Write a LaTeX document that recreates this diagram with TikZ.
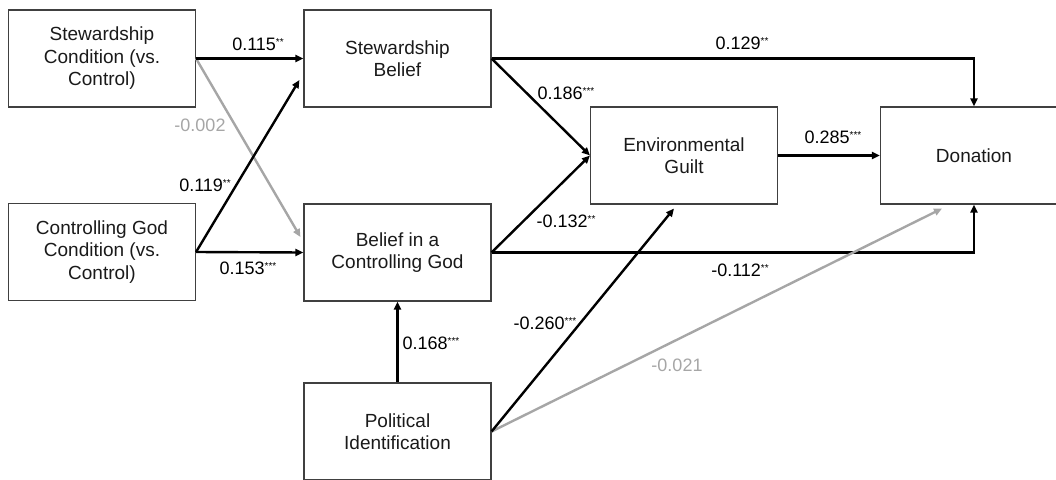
\documentclass[tikz,border=0pt]{standalone}
\usepackage{fontspec}
\setmainfont{Liberation Sans}
\usetikzlibrary{arrows.meta,calc}
\definecolor{ngray}{HTML}{A6A6A6}
\definecolor{tx}{HTML}{1A1A1A}
\newcommand\sigst[1]{\raisebox{0.45ex}{\fontsize{10}{10}\selectfont #1}}
\tikzset{
  box/.style={draw=black!75, line width=1.1pt, minimum width=187pt, minimum height=97pt,
    align=center, font=\fontsize{19}{22.5}\selectfont, text=tx, inner sep=0pt},
  path/.style={line width=2.4pt, -{Triangle[length=8pt,width=7pt]}, black},
  npath/.style={line width=2.4pt, -{Triangle[length=8pt,width=7pt]}, ngray},
  lab/.style={font=\fontsize{18}{20}\selectfont, text=black, inner sep=0pt},
  nlab/.style={font=\fontsize{18}{20}\selectfont, text=ngray, inner sep=0pt}
}
\begin{document}
\begin{tikzpicture}[x=1pt,y=-1pt]
\useasboundingbox (0,0) rectangle (1056,479);
\begin{scope}
\clip (0,0) rectangle (1056,479);
\node[box] (b1) at (102,58.5) {Stewardship\\Condition (vs.\\Control)};
\node[box] (b2) at (102,252) {Controlling God\\Condition (vs.\\Control)};
\node[box] (b3) at (397.5,58.5) {Stewardship\\Belief};
\node[box] (b4) at (397.5,252.5) {Belief in a\\Controlling God};
\node[box] (b5) at (684,155.5) {Environmental\\Guilt};
\node[box] (b6) at (974,155.5) {Donation};
\node[box] (b7) at (397.5,431.5) {Political\\Identification};
\coordinate (c4a) at ($(b4.west)+(-3,-15.5)$);
\coordinate (c3a) at ($(b3.west)+(-4,21.5)$);
\coordinate (c5s) at ($(b5.south)+(-10,4)$);
\coordinate (c6s) at ($(b6.south)+(-32,4)$);
\coordinate (k1) at (974,58.5);
\coordinate (k2) at (974,252.5);

\draw[npath] (b1.east) -- (c4a);
\draw[path] (b1.east) -- (b3.west);
\draw[path] (b2.east) -- (c3a);
\draw[path] (b2.east) -- (b4.west);
\draw[path] (b3.east) -- (b5.west);
\draw[path] (b4.east) -- (b5.west);
\draw[path] (b3.east) -- (k1) -- (b6.north);
\draw[path] (b4.east) -- (k2) -- (b6.south);
\draw[path] (b5.east) -- (b6.west);
\draw[path] (b7.north) -- (b4.south);
\draw[npath] (b7.east) -- (c6s);
\draw[path] (b7.east) -- (c5s);
\end{scope}

\node[lab] (l1) at (258,44) {0.115\sigst{**}};
\node[nlab] (l2) at (200,125) {-0.002};
\node[lab] (l3) at (205,185) {0.119\sigst{**}};
\node[lab] (l4) at (248,268) {0.153\sigst{***}};
\node[lab] (l5) at (566,93) {0.186\sigst{***}};
\node[lab] (l6) at (566,221) {-0.132\sigst{**}};
\node[lab] (l7) at (742,43) {0.129\sigst{**}};
\node[lab] (l8) at (740,270) {-0.112\sigst{**}};
\node[lab] (l9) at (833,137) {0.285\sigst{***}};
\node[lab] (l10) at (431,343) {0.168\sigst{***}};
\node[lab] (l11) at (545,323) {-0.260\sigst{***}};
\node[nlab] (l12) at (677,365) {-0.021};
\end{tikzpicture}
\end{document}
